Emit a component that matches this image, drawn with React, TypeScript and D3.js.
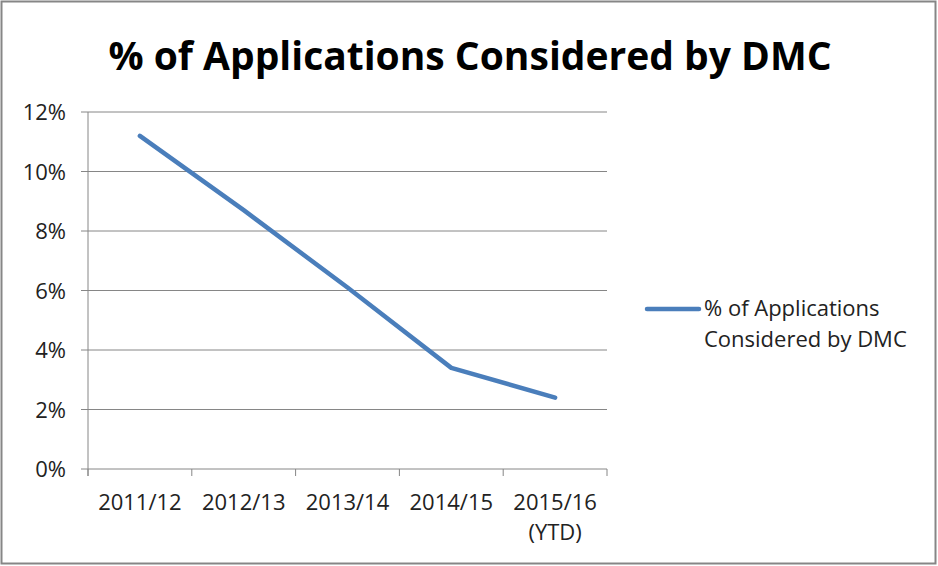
import React from "react";
import * as d3 from "d3";

const categories = ["2011/12", "2012/13", "2013/14", "2014/15", "2015/16\n(YTD)"];
const values = [11.2, 8.7, 6.1, 3.4, 2.4];
const yTicks = [0, 2, 4, 6, 8, 10, 12];
const title = "% of Applications Considered by DMC";
const legendLines = ["% of Applications", "Considered by DMC"];

const W = 938;
const H = 566;
const plot = { left: 88, right: 607, top: 112, bottom: 469 };
const font = "'Open Sans', 'Liberation Sans', sans-serif";
const fs = 22;

export default function App() {
  const x = d3.scaleBand<string>().domain(categories).range([plot.left, plot.right]);
  const y = d3.scaleLinear().domain([0, 12]).range([plot.bottom, plot.top]);
  const line = d3
    .line<number>()
    .x((_, i) => (x(categories[i]) as number) + x.bandwidth() / 2)
    .y((d) => y(d));
  const xTickPos = [...categories.map((c) => x(c) as number), plot.right];

  return (
    <div style={{ position: "absolute", left: 0, top: 0 }}>
      <svg width={W} height={H} style={{ display: "block" }}>
        <rect x={0} y={0} width={W} height={H} fill="#fff" />
        <rect x={1.5} y={1.5} width={W - 4} height={H - 4} fill="none" stroke="#868686" strokeWidth={2} />
        <text x={470} y={70} textAnchor="middle" fontFamily={font} fontWeight="bold" fontSize={39} fill="#000">
          {title}
        </text>
        {yTicks.map((t) => (
          <g key={t}>
            <line x1={plot.left - 7} x2={plot.right} y1={y(t)} y2={y(t)} stroke="#868686" strokeWidth={1} />
            <text x={66} y={y(t) + 8} textAnchor="end" fontFamily={font} fontSize={fs} fill="#222">
              {t}%
            </text>
          </g>
        ))}
        <line x1={plot.left} x2={plot.left} y1={plot.top} y2={plot.bottom + 7} stroke="#868686" strokeWidth={1} />
        {xTickPos.map((p, i) => (
          <line key={i} x1={p} x2={p} y1={plot.bottom} y2={plot.bottom + 7} stroke="#868686" strokeWidth={1} />
        ))}
        {categories.map((c) => {
          const cx = (x(c) as number) + x.bandwidth() / 2;
          return (
            <text key={c} x={cx} y={510} textAnchor="middle" fontFamily={font} fontSize={fs} fill="#222">
              {c.split("\n").map((s, j) => (
                <tspan key={j} x={cx} dy={j === 0 ? 0 : 30}>
                  {s}
                </tspan>
              ))}
            </text>
          );
        })}
        <path d={line(values) || ""} fill="none" stroke="#4A7EBB" strokeWidth={4.5} strokeLinecap="round" strokeLinejoin="round" />
        <line x1={647} x2={699} y1={309} y2={309} stroke="#4A7EBB" strokeWidth={4.5} strokeLinecap="round" />
        {legendLines.map((s, i) => (
          <text key={i} x={704} y={316 + i * 31} fontFamily={font} fontSize={fs} fill="#222">
            {s}
          </text>
        ))}
      </svg>
    </div>
  );
}
